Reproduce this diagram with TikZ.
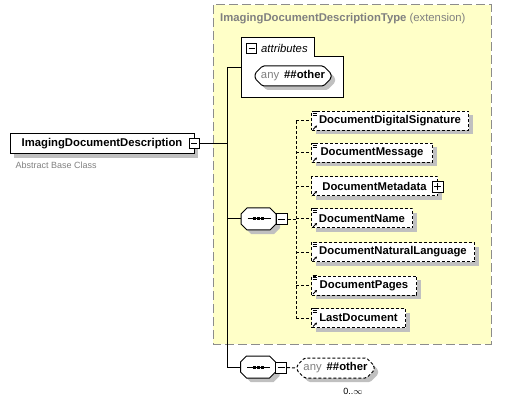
\documentclass[tikz,border=0pt]{standalone}
\usepackage{fontspec}
\setmainfont{Liberation Sans}
\usetikzlibrary{shapes.misc,shadows,arrows.meta,calc}
\definecolor{yel}{HTML}{FFFFC8}
\definecolor{shd}{HTML}{C0C0C0}
\definecolor{frm}{HTML}{8C8C8C}
\definecolor{txg}{HTML}{808080}
\tikzset{
  fnt/.style={font=\fontsize{11.3}{13}\selectfont},
  shdw/.style={drop shadow={shadow xshift=4pt, shadow yshift=-4pt, fill=shd, opacity=1}},
  elem/.style={draw, fill=white, line width=1pt, minimum height=19pt, inner sep=0pt, fnt, font=\fontsize{11.3}{13}\selectfont\bfseries, shdw},
  childbox/.style={elem, dash pattern=on 3pt off 2pt, anchor=west},
  minusbox/.style={draw, fill=white, line width=1pt, minimum size=10pt, inner sep=0pt,
     path picture={\draw[line width=1pt] ([xshift=2pt]path picture bounding box.west) -- ([xshift=-2pt]path picture bounding box.east);}},
  plusbox/.style={minusbox, path picture={\draw[line width=1pt] ([xshift=2pt]path picture bounding box.west) -- ([xshift=-2pt]path picture bounding box.east);
     \draw[line width=1pt] ([yshift=2pt]path picture bounding box.south) -- ([yshift=-2pt]path picture bounding box.north);}},
  seqbox/.style={rectangle, draw=none, minimum width=35pt, minimum height=22pt, inner sep=0pt},
  anybox/.style={draw, fill=white, line width=1pt, chamfered rectangle, chamfered rectangle xsep=4pt, rounded corners=1.5pt, minimum width=76pt, minimum height=20pt, inner sep=0pt, fnt, shdw},
  conn/.style={line width=1pt},
  dconn/.style={line width=1pt, dash pattern=on 3pt off 2pt},
}
\newcommand{\anytext}{{\color{txg}any}\hspace{5pt}\textbf{\#\#other}}
\newcommand{\octpath}{(-11.5,-11) -- (11.5,-11) -- (17.5,-5) -- (17.5,5) -- (11.5,11) -- (-11.5,11) -- (-17.5,5) -- (-17.5,-5) -- cycle}
\newcommand{\seqshape}[1]{%
  \fill[shd, shift={($(#1.center)+(4,4)$)}] \octpath;
  \filldraw[fill=white, line width=1pt, shift={(#1.center)}] \octpath;
  \draw[line width=1pt] ($(#1.center)+(-11,0)$) -- ($(#1.center)+(12,0)$);
  \foreach \d in {-4,0,4} \fill ($(#1.center)+(\d,0)$) +(-1.5,-1.5) rectangle +(1.5,1.5);}
\newcommand{\refarrow}[1]{%
  \draw[line width=0.8pt,-{Stealth[length=2.5pt,width=2.5pt]}] ($(#1.south west)+(2,-1.5)$) -- ($(#1.south west)+(6,-5.5)$);}
\newcommand{\simplelines}[1]{%
  \foreach \k in {0,2,4} \draw[line width=0.7pt] ($(#1.north west)+(1.5,\k)$) -- ++(4.5,0);}
\begin{document}
\begin{tikzpicture}[x=1pt,y=-1pt]
\useasboundingbox (0,0) rectangle (516,403);
% complex type extension frame
\fill[yel] (213,5) rectangle (491,344);
\draw[frm, line width=1pt, dash pattern=on 9pt off 4pt] (213,5) rectangle (491,344);
\node[anchor=west, inner sep=0pt, text=txg, fnt] (title) at (220,19) {\textbf{ImagingDocumentDescriptionType} (extension)};
% attributes box
\draw[fill=white, line width=1pt] (241,38) -- (314,38) -- (314,57) -- (343,57) -- (343,98) -- (241,98) -- cycle;
\node[minusbox] (attrminus) at (251.5,49) {};
\node[anchor=west, inner sep=0pt, fnt, font=\fontsize{11.3}{13}\selectfont\itshape] (attrlbl) at (261,48.5) {attributes};
\node[anybox] (anyattr) at (293,76) {\anytext};
% main element
\node[elem, minimum width=184pt, minimum height=20pt] (main) at (102,144) {ImagingDocumentDescription};
\node[minusbox] (mainminus) at (194,143.5) {};
\node[anchor=west, inner sep=0pt, text=txg, font=\fontsize{9}{10}\selectfont] (abc) at (15.5,165) {Abstract Base Class};
% sequences
\node[seqbox] (seq1) at (258.5,219) {};
\seqshape{seq1}
\node[minusbox, minimum size=11pt] (seq1minus) at (281.5,219.5) {};
\node[seqbox] (seq2) at (258,367) {};
\seqshape{seq2}
\node[minusbox, minimum size=11pt] (seq2minus) at (281,367.5) {};
% children
\node[childbox, minimum width=157pt] (c1) at (311,121) {DocumentDigitalSignature};
\node[childbox, minimum width=121pt] (c2) at (311,153) {DocumentMessage};
\node[childbox, minimum width=126pt] (c3) at (311,186.5) {DocumentMetadata\hspace{12pt}};
\node[plusbox, minimum size=11pt] (c3plus) at (437.5,187) {};
\node[childbox, minimum width=101pt] (c4) at (311,218.5) {DocumentName};
\node[childbox, minimum width=163pt] (c5) at (311,252) {DocumentNaturalLanguage};
\node[childbox, minimum width=105pt] (c6) at (311,285.5) {DocumentPages};
\node[childbox, minimum width=94pt] (c7) at (311,318) {LastDocument};
\foreach \c in {c1,c2,c4,c5,c6,c7} {\simplelines{\c}}
\foreach \c in {c1,c2,c3,c4,c5,c6,c7} {\refarrow{\c}}
% any ##other (dashed)
\node[anybox, dash pattern=on 3pt off 2pt, minimum width=77pt] (any2) at (335.5,368) {\anytext};
\node[inner sep=0pt, font=\fontsize{9}{10}\selectfont] (occ) at (353,391) {0..$\infty$};
% solid connectors
\coordinate (jtop) at (227,68);
\coordinate (jmain) at (227,143.5);
\coordinate (jseq) at (227,219);
\coordinate (jbot) at (227,367);
\coordinate (attrin) at (241,68);
\draw[conn] (mainminus.east) -- (jmain);
\draw[conn] (jtop) -- (attrin);
\draw[conn] (jtop) -- (jbot);
\draw[conn] (jseq) -- (seq1.west);
\draw[conn] (jbot) -- (seq2.west);
% dashed connectors
\coordinate (dtop) at (296,121);
\coordinate (dbot) at (296,318);
\draw[dconn] (dtop) -- (dbot);
\draw[dconn] (seq1minus.east) -- (seq1minus.east -| dtop);
\foreach \c in {c1,c2,c3,c4,c5,c6,c7} {\draw[dconn] (\c.west -| dtop) -- (\c.west);}
\draw[dconn] (seq2minus.east) -- (any2.west);
\end{tikzpicture}
\end{document}
